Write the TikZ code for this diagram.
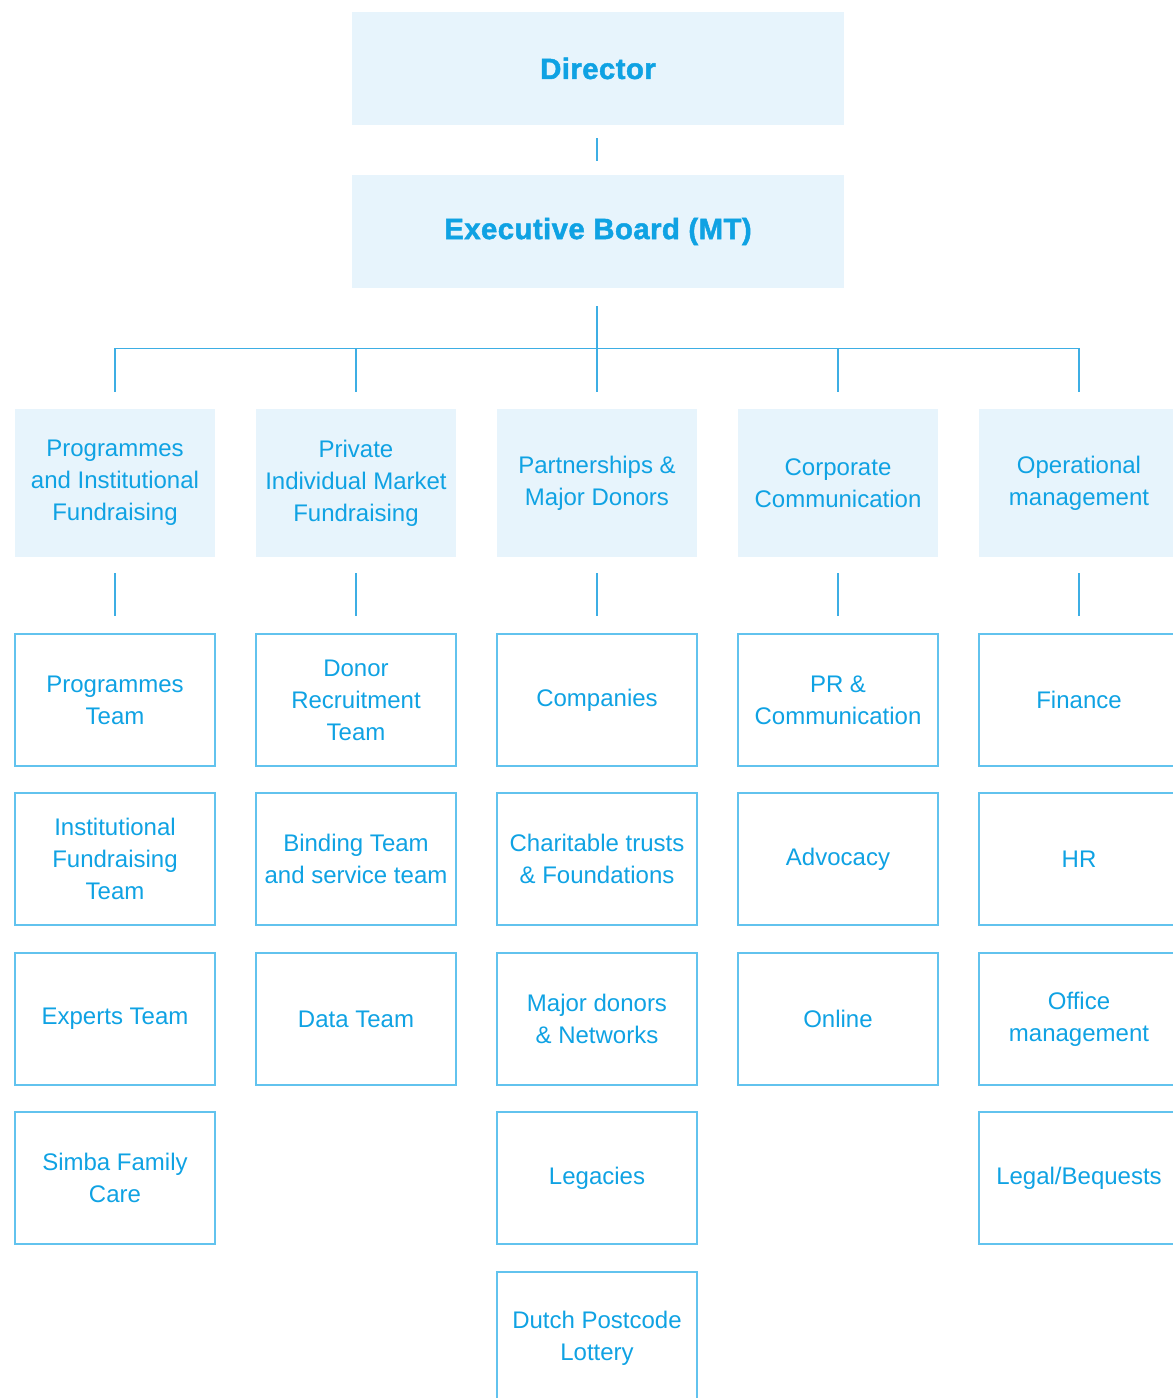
\documentclass[tikz,border=0pt]{standalone}
\usepackage{fontspec}
\setmainfont{Liberation Sans}
\newfontfamily\heavyfont[FakeBold=1.6,LetterSpace=1.5]{Liberation Sans Bold}
\usetikzlibrary{calc}
\definecolor{txtc}{HTML}{0FA2E3}
\definecolor{fillc}{HTML}{E7F4FC}
\definecolor{edgec}{HTML}{62C3EE}
\definecolor{linec}{HTML}{3DAEE4}
\begin{document}
\begin{tikzpicture}[x=0.75pt,y=-0.75pt,
  base/.style={inner sep=0pt, align=center, text=txtc,
    font=\fontsize{18pt}{24pt}\selectfont},
  topbox/.style={base, fill=fillc, minimum width=369pt, minimum height=84.75pt,
    font=\fontsize{22pt}{27pt}\heavyfont},
  hdr/.style={base, fill=fillc, minimum width=150pt, minimum height=111pt},
  unit/.style={base, draw=edgec, line width=1.1pt, minimum width=150pt, minimum height=99pt},
  conn/.style={draw=linec, line width=1.1pt}]
\path[use as bounding box] (0,0) rectangle (1173,1398);
\clip (0,0) rectangle (1173,1398);

\node[topbox] (dir) at (598,68.5) {Director};
\node[topbox] (eb) at (598,231.5) {Executive Board (MT)};

\node[hdr] (h1) at (115,483) {Programmes\\and Institutional\\Fundraising};
\node[hdr] (h2) at (356,483) {Private\\Individual Market\\Fundraising};
\node[hdr] (h3) at (597,483) {Partnerships \&\\Major Donors};
\node[hdr] (h4) at (838,483) {Corporate\\Communication};
\node[hdr] (h5) at (1079,483) {Operational\\management};

% column 1
\node[unit] (a1) at (115,700) {Programmes\\Team};
\node[unit] (a2) at (115,859) {Institutional\\Fundraising\\Team};
\node[unit] (a3) at (115,1019) {Experts Team};
\node[unit] (a4) at (115,1178) {Simba Family\\Care};
% column 2
\node[unit] (b1) at (356,700) {Donor\\Recruitment\\Team};
\node[unit] (b2) at (356,859) {Binding Team\\and service team};
\node[unit] (b3) at (356,1019) {Data Team};
% column 3
\node[unit] (c1) at (597,700) {Companies};
\node[unit] (c2) at (597,859) {Charitable trusts\\\& Foundations};
\node[unit] (c3) at (597,1019) {Major donors\\\& Networks};
\node[unit] (c4) at (597,1178) {Legacies};
\node[unit] (c5) at (597,1338) {Dutch Postcode\\Lottery};
% column 4
\node[unit] (d1) at (838,700) {PR \&\\Communication};
\node[unit] (d2) at (838,859) {Advocacy};
\node[unit] (d3) at (838,1019) {Online};
% column 5
\node[unit] (e1) at (1079,700) {Finance};
\node[unit] (e2) at (1079,859) {HR};
\node[unit] (e3) at (1079,1019) {Office\\management};
\node[unit] (e4) at (1079,1178) {Legal/Bequests};

% connectors
\draw[conn] ($(dir.south)+(-1,13)$) -- ($(eb.north)+(-1,-14)$);
\coordinate (bar) at ($(eb.south)+(-1,61)$);
\draw[conn] ($(eb.south)+(-1,18)$) -- (bar);
\draw[conn] ($(h1.north)+(0,-17)$) |- ($(h5.north)+(0,-60)$) -- ($(h5.north)+(0,-17)$);
\foreach \h in {h2,h3,h4}{
  \draw[conn] ($(\h.north)+(0,-17)$) -- ($(\h.north)+(0,-60)$);
}
\draw[conn] ($(h1.south)+(0,16)$) -- ($(a1.north)+(0,-17)$);
\draw[conn] ($(h2.south)+(0,16)$) -- ($(b1.north)+(0,-17)$);
\draw[conn] ($(h3.south)+(0,16)$) -- ($(c1.north)+(0,-17)$);
\draw[conn] ($(h4.south)+(0,16)$) -- ($(d1.north)+(0,-17)$);
\draw[conn] ($(h5.south)+(0,16)$) -- ($(e1.north)+(0,-17)$);
\end{tikzpicture}
\end{document}
